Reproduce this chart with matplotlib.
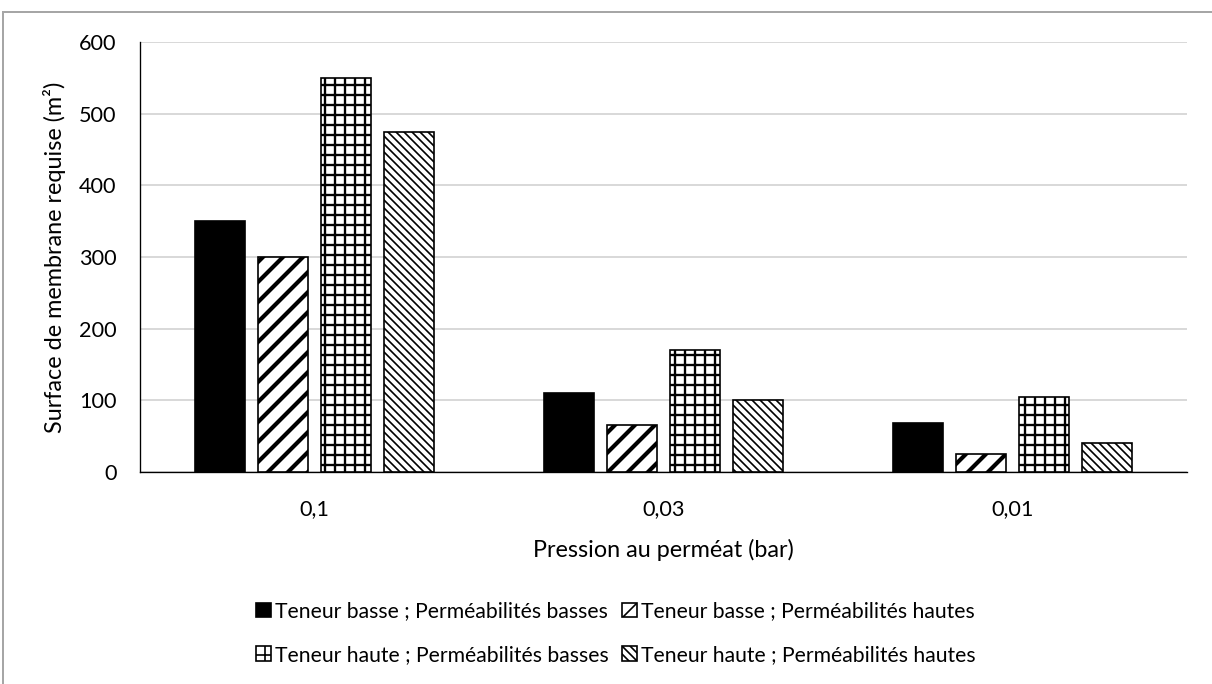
import numpy as np
import matplotlib
matplotlib.use("Agg")
import matplotlib.pyplot as plt
from matplotlib.lines import Line2D

plt.rcParams['font.family'] = ['Lato', 'DejaVu Sans']

# data
pressures = ["0,1", "0,03", "0,01"]
series_names = [
    "Teneur basse ; Perméabilités basses",
    "Teneur basse ; Perméabilités hautes",
    "Teneur haute ; Perméabilités basses",
    "Teneur haute ; Perméabilités hautes",
]
tb_pb = [350, 110, 68]
tb_ph = [300, 65, 25]
th_pb = [550, 170, 105]
th_ph = [475, 100, 40]

# styles
faces = ["black", "white", "white", "white"]
hatches = [None, "//", "++", "\\\\\\\\\\"]
hatch_lw = [1.0, 2.5, 1.4, 1.0]

W, H = 1212, 684
fig = plt.figure(figsize=(W / 120, H / 120), dpi=120)
ax = fig.add_axes([140 / W, 1 - 472 / H, (1187 - 140) / W, (472 - 42) / H])

x = np.arange(len(pressures))
width = 0.143
step = 0.18
handles = []
for i, vals in enumerate([tb_pb, tb_ph, th_pb, th_ph]):
    bars = ax.bar(x + (i - 1.5) * step, vals, width, color=faces[i],
                  edgecolor="black", linewidth=1.0, hatch=hatches[i],
                  label=series_names[i], zorder=3)
    for b in bars:
        if hasattr(b, "set_hatch_linewidth"):
            b.set_hatch_linewidth(hatch_lw[i])
    handles.append(bars)

ax.set_xlim(-0.5, 2.5)
ax.set_ylim(0, 600)
ax.set_yticks(range(0, 601, 100))
ax.set_xticks(x)
ax.set_xticklabels(pressures)
ax.tick_params(length=0, labelsize=13, colors="#000000")
ax.tick_params(axis="y", pad=14)
ax.tick_params(axis="x", pad=16)
ax.grid(axis="y", color="#d9d9d9", linewidth=1.2, zorder=0)
for s in ["top", "right"]:
    ax.spines[s].set_visible(False)
ax.spines["left"].set_color("black")
ax.spines["bottom"].set_color("black")
ax.spines["left"].set_linewidth(0.8)
ax.spines["bottom"].set_linewidth(0.8)

ax.set_ylabel("Surface de membrane requise (m²)", fontsize=14, labelpad=8)
ax.set_xlabel("Pression au perméat (bar)", fontsize=14, labelpad=12)

order = [0, 2, 1, 3]
fig.legend([handles[k] for k in order], [series_names[k] for k in order],
           loc="center", bbox_to_anchor=(616 / W, 1 - 633 / H), ncol=2,
           frameon=False, fontsize=12.7, handlelength=0.7, handleheight=0.7,
           handletextpad=0.2, columnspacing=0.6, labelspacing=1.1)

# outer chart frame (cropped at right and bottom)
fig.add_artist(Line2D([3 / W, 1], [1 - 12 / H, 1 - 12 / H], color="#a6a6a6",
                      linewidth=1.2, transform=fig.transFigure))
fig.add_artist(Line2D([3 / W, 3 / W], [0, 1 - 12 / H], color="#a6a6a6",
                      linewidth=1.2, transform=fig.transFigure))

fig.savefig("out.png", dpi=120, facecolor="white")
